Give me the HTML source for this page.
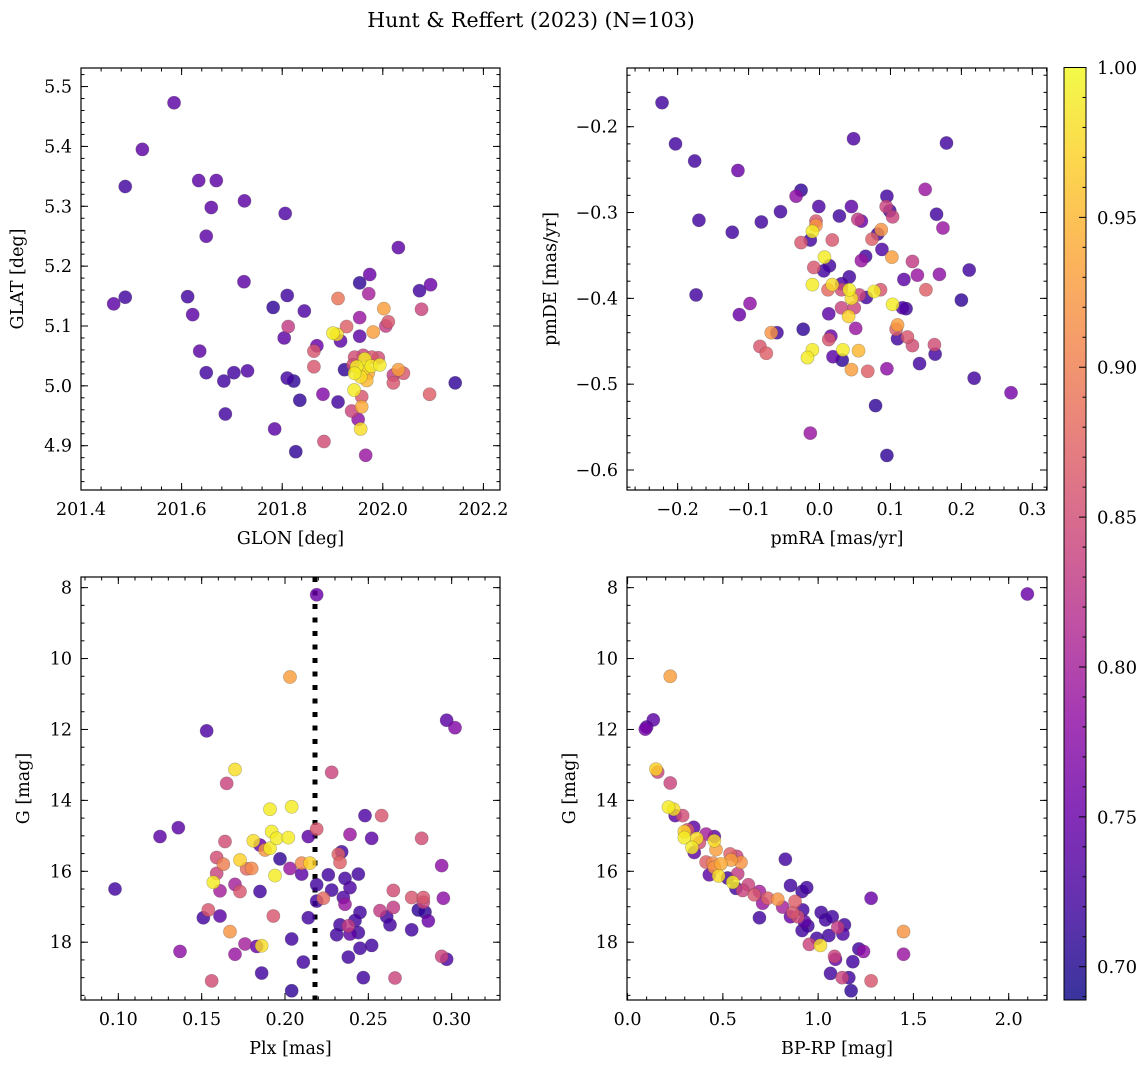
<!DOCTYPE html>
<html><head><meta charset="utf-8">
<style>
html,body{margin:0;padding:0;background:#fff;}
svg{display:block;font-family:"DejaVu Serif","Liberation Serif",serif;}
</style></head>
<body>
<svg id="fig" width="1148" height="1067" viewBox="0 0 1148 1067">
<text x="531" y="27" text-anchor="middle" font-size="20.5">Hunt &amp; Reffert (2023) (N=103)</text>
</svg>
<script>
// ---------- data ----------
// Panel 1: GLON / GLAT / membership probability
const p1Glon=[201.585,201.522,201.488,201.634,201.669,201.725,201.659,201.806,201.649,202.031,201.724,201.954,201.974,202.073,202.095,201.465,201.488,201.612,201.622,201.810,201.782,201.844,201.911,201.972,202.002,202.077,201.954,201.812,201.804,201.928,201.901,201.909,201.954,201.916,201.981,202.006,202.011,201.636,201.869,201.863,201.863,201.649,201.704,201.731,201.684,201.810,201.823,201.924,201.944,201.961,201.978,201.991,201.941,201.964,201.948,201.964,201.977,201.994,201.944,201.956,201.968,201.971,202.031,202.021,202.041,202.021,202.144,202.093,201.881,201.835,201.911,201.943,201.958,201.938,201.958,201.951,201.687,201.785,201.956,201.883,201.827,201.966];
const p1Glat=[5.473,5.395,5.333,5.343,5.343,5.309,5.298,5.288,5.250,5.231,5.174,5.172,5.186,5.159,5.169,5.137,5.148,5.149,5.119,5.151,5.131,5.125,5.146,5.154,5.129,5.128,5.114,5.099,5.080,5.099,5.088,5.086,5.083,5.075,5.090,5.100,5.107,5.058,5.067,5.058,5.032,5.022,5.022,5.025,5.008,5.013,5.008,5.027,5.048,5.051,5.048,5.047,5.035,5.045,5.032,5.029,5.033,5.035,5.021,5.015,5.009,5.021,5.027,5.018,5.021,5.005,5.005,4.986,4.986,4.976,4.973,4.993,4.982,4.958,4.965,4.944,4.953,4.928,4.928,4.907,4.890,4.884];
const p1Prob=[0.74,0.74,0.72,0.74,0.74,0.74,0.74,0.73,0.74,0.74,0.74,0.71,0.75,0.72,0.75,0.74,0.72,0.72,0.74,0.72,0.71,0.73,0.89,0.80,0.93,0.84,0.79,0.83,0.74,0.87,0.99,0.98,0.74,0.74,0.93,0.83,0.86,0.74,0.75,0.86,0.86,0.72,0.72,0.73,0.72,0.72,0.71,0.71,0.85,0.84,0.86,0.85,0.85,0.99,0.99,0.98,0.99,0.99,0.99,0.98,0.95,0.94,0.93,0.83,0.86,0.86,0.71,0.87,0.77,0.71,0.72,0.99,0.86,0.84,0.94,0.78,0.72,0.74,0.98,0.85,0.71,0.79];
// Panel 2: pmRA / pmDE / probability
const p2PmRA=[-0.222,-0.203,-0.176,-0.115,0.048,0.179,0.149,-0.026,-0.033,0.095,-0.170,-0.082,-0.055,-0.001,0.045,0.028,0.054,0.059,0.094,0.099,0.103,0.165,0.174,-0.123,-0.005,-0.005,-0.010,-0.013,-0.026,0.018,0.074,0.082,0.087,0.088,0.102,0.065,0.059,0.007,0.014,0.006,-0.008,-0.010,0.018,0.031,0.042,0.131,0.119,0.138,0.169,0.211,0.012,0.031,0.042,0.045,0.056,0.066,0.077,0.086,0.150,0.200,-0.174,-0.098,-0.113,0.013,0.031,0.049,0.041,0.103,0.117,0.122,0.108,0.110,0.051,-0.060,-0.068,-0.023,0.016,0.013,0.110,0.124,0.131,0.162,0.163,-0.084,-0.075,-0.010,-0.017,0.019,0.032,0.033,0.055,0.045,0.068,0.095,0.141,0.218,0.270,0.079,-0.013,0.095];
const p2PmDE=[-0.172,-0.220,-0.240,-0.251,-0.214,-0.219,-0.273,-0.274,-0.281,-0.281,-0.309,-0.311,-0.299,-0.293,-0.293,-0.304,-0.308,-0.310,-0.293,-0.298,-0.305,-0.302,-0.318,-0.323,-0.310,-0.315,-0.322,-0.332,-0.335,-0.332,-0.331,-0.325,-0.320,-0.343,-0.352,-0.351,-0.356,-0.352,-0.362,-0.368,-0.364,-0.384,-0.384,-0.383,-0.375,-0.357,-0.378,-0.373,-0.372,-0.367,-0.390,-0.390,-0.390,-0.400,-0.396,-0.399,-0.392,-0.390,-0.390,-0.402,-0.396,-0.406,-0.419,-0.418,-0.411,-0.411,-0.421,-0.407,-0.411,-0.412,-0.436,-0.431,-0.435,-0.440,-0.440,-0.436,-0.444,-0.448,-0.447,-0.445,-0.455,-0.454,-0.465,-0.456,-0.464,-0.460,-0.469,-0.468,-0.472,-0.460,-0.461,-0.483,-0.485,-0.482,-0.476,-0.493,-0.510,-0.525,-0.557,-0.583];
const p2Prob=[0.72,0.72,0.72,0.75,0.73,0.72,0.79,0.71,0.78,0.72,0.72,0.72,0.72,0.73,0.74,0.72,0.83,0.75,0.84,0.72,0.84,0.72,0.79,0.72,0.86,0.92,0.99,0.72,0.86,0.86,0.87,0.72,0.92,0.73,0.93,0.72,0.79,0.99,0.72,0.72,0.86,0.99,0.98,0.73,0.72,0.83,0.74,0.79,0.78,0.72,0.88,0.85,0.99,0.98,0.84,0.72,0.99,0.86,0.87,0.71,0.72,0.78,0.75,0.74,0.84,0.84,0.97,0.99,0.73,0.72,0.87,0.93,0.79,0.72,0.92,0.71,0.75,0.86,0.72,0.86,0.85,0.85,0.72,0.86,0.87,0.99,0.99,0.74,0.71,0.99,0.95,0.93,0.87,0.78,0.72,0.72,0.76,0.71,0.79,0.71];
// Panel 3: Plx / G / probability
const p3Plx=[0.219,0.203,0.153,0.297,0.302,0.170,0.165,0.228,0.191,0.204,0.248,0.258,0.125,0.136,0.164,0.181,0.185,0.188,0.191,0.192,0.195,0.202,0.214,0.219,0.239,0.252,0.282,0.234,0.232,0.233,0.159,0.163,0.173,0.177,0.180,0.197,0.203,0.210,0.210,0.215,0.194,0.159,0.157,0.170,0.161,0.173,0.098,0.185,0.219,0.226,0.228,0.219,0.223,0.236,0.239,0.244,0.235,0.236,0.265,0.265,0.276,0.283,0.283,0.295,0.294,0.257,0.261,0.263,0.280,0.284,0.286,0.276,0.245,0.242,0.233,0.238,0.239,0.244,0.231,0.245,0.252,0.238,0.247,0.266,0.294,0.297,0.151,0.154,0.161,0.193,0.214,0.167,0.176,0.183,0.186,0.170,0.137,0.204,0.211,0.186,0.156,0.204];
const p3G=[8.20,10.52,12.04,11.74,11.95,13.13,13.52,13.21,14.25,14.18,14.43,14.43,15.02,14.77,15.16,15.14,15.26,15.40,15.35,14.88,15.07,15.05,15.02,14.81,14.96,15.07,15.07,15.45,15.52,15.75,15.61,15.80,15.68,15.93,15.92,15.65,15.92,16.08,15.77,15.77,16.12,16.06,16.31,16.37,16.55,16.57,16.50,16.57,16.38,16.10,16.53,16.84,16.76,16.20,16.46,16.08,16.74,16.93,16.54,17.02,16.74,16.74,16.87,16.76,15.84,17.11,17.28,17.51,17.09,17.15,17.40,17.65,17.16,17.39,17.51,17.54,17.77,17.73,17.79,18.17,18.09,18.42,19.00,19.01,18.40,18.48,17.31,17.09,17.26,17.26,17.31,17.70,18.05,18.12,18.10,18.34,18.26,17.91,18.56,18.87,19.09,19.37];
const p3Prob=[0.75,0.93,0.73,0.74,0.77,0.98,0.84,0.84,0.99,0.99,0.73,0.86,0.74,0.74,0.85,0.98,0.75,0.92,0.99,0.99,0.99,0.99,0.74,0.86,0.79,0.74,0.85,0.72,0.87,0.87,0.85,0.90,0.97,0.88,0.91,0.71,0.79,0.74,0.91,0.97,0.99,0.84,0.99,0.80,0.80,0.86,0.72,0.72,0.72,0.72,0.72,0.72,0.88,0.72,0.73,0.72,0.73,0.79,0.85,0.83,0.86,0.86,0.84,0.78,0.78,0.83,0.72,0.72,0.71,0.71,0.75,0.72,0.72,0.72,0.72,0.83,0.74,0.72,0.72,0.72,0.72,0.72,0.72,0.84,0.84,0.73,0.72,0.86,0.74,0.86,0.72,0.92,0.80,0.75,0.98,0.79,0.78,0.72,0.72,0.72,0.85,0.71];
const plxMean=0.218;
// Panel 4: BP-RP / G / probability
const p4Color=[2.098,0.224,0.135,0.093,0.100,0.149,0.158,0.224,0.215,0.242,0.250,0.289,0.347,0.315,0.298,0.298,0.363,0.412,0.455,0.455,0.377,0.338,0.350,0.464,0.538,0.573,0.543,0.595,0.412,0.447,0.490,0.455,0.578,0.429,0.478,0.525,0.552,0.569,0.634,0.604,0.692,0.665,0.735,0.788,0.709,0.814,0.879,0.855,0.867,0.893,0.919,0.692,0.828,0.855,0.916,0.940,1.016,1.039,1.074,0.928,0.946,0.916,1.138,1.103,1.056,1.130,0.993,0.954,1.012,1.086,1.091,1.214,1.238,1.182,1.278,1.448,1.448,1.065,1.126,1.161,1.278,1.173];
const p4G=[8.18,10.50,11.73,11.99,11.93,13.12,13.20,13.51,14.19,14.25,14.43,14.43,14.76,14.83,14.88,15.05,15.07,14.95,15.02,15.14,15.19,15.33,15.47,15.39,15.51,15.58,15.68,15.75,15.74,15.77,15.79,15.89,16.07,16.10,16.13,16.19,16.31,16.48,16.38,16.54,16.57,16.66,16.76,16.79,16.90,17.01,16.85,17.28,17.16,17.28,17.09,17.31,15.66,16.40,16.57,16.46,17.16,17.37,17.28,17.42,17.54,17.67,17.51,17.58,17.81,17.77,17.89,18.06,18.09,18.40,18.48,18.19,18.26,18.55,16.76,17.70,18.34,18.88,19.00,19.00,19.09,19.37];
const p4Prob=[0.75,0.93,0.74,0.76,0.74,0.97,0.84,0.84,0.99,0.98,0.74,0.85,0.74,0.86,0.97,0.99,0.98,0.80,0.74,0.98,0.85,0.99,0.74,0.93,0.87,0.84,0.93,0.92,0.87,0.91,0.94,0.92,0.83,0.74,0.98,0.72,0.99,0.72,0.84,0.84,0.80,0.86,0.87,0.92,0.79,0.80,0.87,0.75,0.86,0.85,0.72,0.72,0.72,0.72,0.72,0.72,0.72,0.72,0.72,0.74,0.72,0.72,0.72,0.83,0.72,0.73,0.72,0.84,0.98,0.84,0.75,0.72,0.78,0.72,0.75,0.92,0.79,0.72,0.84,0.72,0.86,0.71];
// Colorbar
const cbTicks=[0.70,0.75,0.80,0.85,0.90,0.95,1.00];
const cbTickLabels=["0.70","0.75","0.80","0.85","0.90","0.95","1.00"];

// ---------- rendering ----------
const NS='http://www.w3.org/2000/svg';
const svg=document.getElementById('fig');
const VMIN=0.6889, VMAX=1.0;
const FS=17.5;
const plasma=[[13,8,135],[65,4,157],[106,0,168],[143,13,164],[177,42,144],[204,71,120],[225,100,98],[242,132,75],[252,166,54],[252,206,37],[240,249,33]];
function cmap(v){
  let t=(v-VMIN)/(VMAX-VMIN); t=Math.max(0,Math.min(1,t));
  const f=t*10, i=Math.min(9,Math.floor(f)), r=f-i;
  const a=plasma[i], b=plasma[i+1];
  return 'rgb('+[0,1,2].map(k=>Math.round(a[k]+(b[k]-a[k])*r)).join(',')+')';
}
function el(tag,attrs,parent){const e=document.createElementNS(NS,tag);for(const k in attrs)e.setAttribute(k,attrs[k]);(parent||svg).appendChild(e);return e;}
function txt(s,attrs,parent){const e=el('text',attrs,parent);e.textContent=s;return e;}

function panel(cfg){
  const g=el('g',{});
  
  
  const L=cfg.box[0],T=cfg.box[1],R=cfg.box[2],B=cfg.box[3];
  const sx=v=>L+(v-cfg.xr[0])/(cfg.xr[1]-cfg.xr[0])*(R-L);
  const sy=cfg.yinv? (v=>T+(v-cfg.yr[0])/(cfg.yr[1]-cfg.yr[0])*(B-T)) : (v=>B-(v-cfg.yr[0])/(cfg.yr[1]-cfg.yr[0])*(B-T));
  const clipId='clip-'+cfg.name;
  const cp=el('clipPath',{id:clipId},g); el('rect',{x:L,y:T,width:R-L,height:B-T},cp);
  const pts=el('g',{'clip-path':'url(#'+clipId+')'},g);
  
  
  if(cfg.vline!==undefined){
    const ln=el('line',{x1:sx(cfg.vline),x2:sx(cfg.vline),y1:T,y2:B,stroke:'#000','stroke-width':5,'stroke-dasharray':'5 8.5'},pts);
    
    
  }
  const n=Math.min(cfg.xs.length,cfg.ys.length,cfg.ps.length);
  const order=[...Array(n).keys()].sort((a,b)=>cfg.ps[a]-cfg.ps[b]);
  for(const i of order){
    const c=el('circle',{cx:sx(cfg.xs[i]),cy:sy(cfg.ys[i]),r:6.6,fill:cmap(cfg.ps[i]),'fill-opacity':0.82,stroke:'rgba(60,60,60,0.35)','stroke-width':0.6},pts);
    
    
  }
  const fr=el('rect',{x:L,y:T,width:R-L,height:B-T,fill:'none',stroke:'#000','stroke-width':1.2},g);
  
  
  const tk=el('g',{stroke:'#000','stroke-width':1},g);
  const eps=1e-9;
  function ticksX(step,len){const s0=Math.ceil((cfg.xr[0]-eps)/step);for(let k=s0;k*step<=cfg.xr[1]+eps;k++){const x=sx(k*step);el('line',{x1:x,x2:x,y1:B,y2:B-len},tk);el('line',{x1:x,x2:x,y1:T,y2:T+len},tk);}}
  function ticksY(step,len){const lo=Math.min(...cfg.yr),hi=Math.max(...cfg.yr);const s0=Math.ceil((lo-eps)/step);for(let k=s0;k*step<=hi+eps;k++){const y=sy(k*step);el('line',{x1:L,x2:L+len,y1:y,y2:y},tk);el('line',{x1:R,x2:R-len,y1:y,y2:y},tk);}}
  ticksX(cfg.xminor,3.5);ticksY(cfg.yminor,3.5);
  ticksX(cfg.xmajor,7);ticksY(cfg.ymajor,7);
  cfg.xticks.forEach((v,i)=>{const t=txt(cfg.xlabels[i],{x:sx(v),y:B+25,'text-anchor':'middle','font-size':FS},g);
    
    });
  cfg.yticks.forEach((v,i)=>{const t=txt(cfg.ylabels[i],{x:L-9,y:sy(v)+6,'text-anchor':'end','font-size':FS},g);
    
    });
  const xt=txt(cfg.xtitle,{x:(L+R)/2,y:B+54,'text-anchor':'middle','font-size':FS},g);
  
  
  const yt=txt(cfg.ytitle,{x:0,y:0,'text-anchor':'middle','font-size':FS,transform:'translate('+cfg.ytx+','+(T+B)/2+') rotate(-90)'},g);
  
  
}
const gticks=[8,10,12,14,16,18], glabels=gticks.map(String);
panel({name:'glon-glat-panel',box:[81,68,500,490],xr:[201.4,202.233],yr:[4.826,5.531],xs:p1Glon,ys:p1Glat,ps:p1Prob,
  xmajor:0.2,xminor:0.04,ymajor:0.1,yminor:0.02,
  xticks:[201.4,201.6,201.8,202.0,202.2],xlabels:['201.4','201.6','201.8','202.0','202.2'],
  yticks:[4.9,5.0,5.1,5.2,5.3,5.4,5.5],ylabels:['4.9','5.0','5.1','5.2','5.3','5.4','5.5'],
  xtitle:'GLON [deg]',ytitle:'GLAT [deg]',ytx:23});
panel({name:'proper-motion-panel',box:[627,68,1047,490],xr:[-0.2714,0.3207],yr:[-0.6233,-0.1316],xs:p2PmRA,ys:p2PmDE,ps:p2Prob,
  xmajor:0.1,xminor:0.02,ymajor:0.1,yminor:0.02,
  xticks:[-0.2,-0.1,0.0,0.1,0.2,0.3],xlabels:['\u22120.2','\u22120.1','0.0','0.1','0.2','0.3'],
  yticks:[-0.2,-0.3,-0.4,-0.5,-0.6],ylabels:['\u22120.2','\u22120.3','\u22120.4','\u22120.5','\u22120.6'],
  xtitle:'pmRA [mas/yr]',ytitle:'pmDE [mas/yr]',ytx:556});
panel({name:'parallax-panel',box:[81,577,500,1000],xr:[0.0776,0.329],yr:[7.70,19.63],yinv:true,xs:p3Plx,ys:p3G,ps:p3Prob,vline:plxMean,
  xmajor:0.05,xminor:0.01,ymajor:2,yminor:0.5,
  xticks:[0.10,0.15,0.20,0.25,0.30],xlabels:['0.10','0.15','0.20','0.25','0.30'],
  yticks:gticks,ylabels:glabels,xtitle:'Plx [mas]',ytitle:'G [mag]',ytx:29});
panel({name:'cmd-panel',box:[627,577,1047,1000],xr:[-0.003,2.201],yr:[7.70,19.63],yinv:true,xs:p4Color,ys:p4G,ps:p4Prob,
  xmajor:0.5,xminor:0.1,ymajor:2,yminor:0.5,
  xticks:[0,0.5,1.0,1.5,2.0],xlabels:['0.0','0.5','1.0','1.5','2.0'],
  yticks:gticks,ylabels:glabels,xtitle:'BP-RP [mag]',ytitle:'G [mag]',ytx:575});

// colorbar
(function(){
  const L=1064,R=1086,T=67.5,B=1000;
  const cb=el('g',{});
  
  
  const defs=el('defs',{},cb);
  const lg=el('linearGradient',{id:'plasmaGrad',x1:0,y1:1,x2:0,y2:0},defs);
  for(let i=0;i<=10;i++){const c=plasma[i];el('stop',{offset:i/10,'stop-color':'rgb('+c.join(',')+')','stop-opacity':0.82},lg);}
  el('rect',{x:L,y:T,width:R-L,height:B-T,fill:'url(#plasmaGrad)',stroke:'#000','stroke-width':1},cb);
  const sy=v=>B-(v-VMIN)/(VMAX-VMIN)*(B-T);
  for(let k=69;k<=100;k++){const v=k/100,y=sy(v);const major=(k%5===0);
    el('line',{x1:R-(major?7:3.5),x2:R,y1:y,y2:y,stroke:'#000','stroke-width':1},cb);}
  cbTicks.forEach((v,i)=>{const t=txt(cbTickLabels[i],{x:R+11,y:sy(v)+6.5,'font-size':18},cb);
    
    });
})();
</script>
</body></html>
